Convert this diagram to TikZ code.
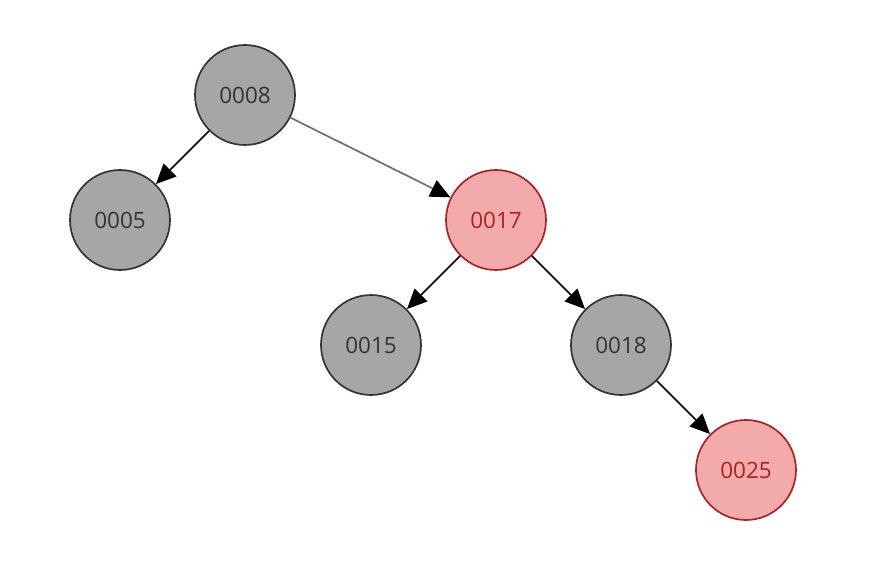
\documentclass[tikz,border=0pt]{standalone}
\usepackage{fontspec}
\setmainfont{Open Sans}
\usepackage{tikz}
\usetikzlibrary{positioning, arrows.meta}

\definecolor{keygray}{HTML}{A6A6A6}
\definecolor{keypink}{HTML}{F3AAAA}
\definecolor{keyred}{HTML}{A82424}
\definecolor{edgegray}{HTML}{6E6E6E}

\begin{document}
\begin{tikzpicture}[node distance=3.125cm and 3.125cm,on grid,line width=1.2pt,
		black node/.style={circle,draw=black!80,fill=keygray,text=black!80,minimum size=2.5cm,font=\fontsize{16}{16}\selectfont},
		red node/.style={circle,draw=keyred,fill=keypink,text=keyred,minimum size=2.5cm,font=\fontsize{16}{16}\selectfont},
		>={Triangle[length=0.5cm,width=0.45cm,color=black]}]
			\useasboundingbox (-6.125,2.375) rectangle (15.975,-11.975);
			\node[black node] (8) 					{0008};
			\node[black node] (5) [below left=of 8]	{0005};
			\node[red node] (17) [below right=3.125cm and 6.275cm of 8]	{0017};
			\node[black node] (15) [below left=of 17]	{0015};
			\node[black node] (18) [below right=of 17]	{0018};
			\node[red node] (25) [below right=of 18]	{0025};
			\path[->]	(8) edge				(5)
						edge[edgegray]		(17)
					(17) edge				(15)
						edge				(18)
					(18) edge				(25)
					;
	\end{tikzpicture}
\end{document}
